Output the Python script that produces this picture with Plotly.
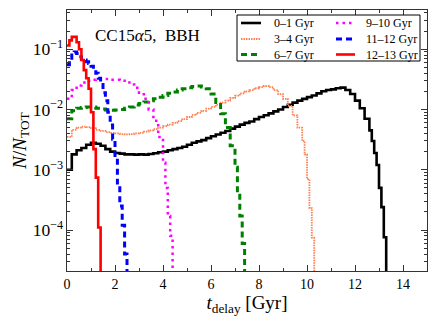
import plotly.graph_objects as go

# delay-time distributions, step histograms
# coarse part: 0.2 Gyr bins from t=0, fine tail: 0.1 Gyr bins after that
black_coarse = [1.0e-3, 1.8e-3, 2.1e-3, 2.3e-3, 2.6e-3, 2.8e-3, 2.7e-3, 2.5e-3, 2.2e-3, 2.0e-3,
                1.9e-3, 1.85e-3, 1.8e-3, 1.8e-3, 1.78e-3, 1.8e-3, 1.78e-3, 1.82e-3, 1.88e-3, 1.95e-3,
                2.0e-3, 2.1e-3, 2.2e-3, 2.3e-3, 2.4e-3, 2.6e-3, 2.8e-3, 2.95e-3, 3.1e-3, 3.35e-3,
                3.6e-3, 3.85e-3, 4.1e-3, 4.4e-3, 4.8e-3, 5.2e-3, 5.6e-3, 6.0e-3, 6.3e-3, 6.9e-3,
                7.5e-3, 8.0e-3, 8.6e-3, 9.3e-3, 1.0e-2, 1.1e-2, 1.2e-2, 1.3e-2, 1.4e-2, 1.5e-2,
                1.6e-2, 1.7e-2, 1.85e-2, 2.0e-2, 2.1e-2, 2.15e-2, 2.25e-2, 2.3e-2, 2.1e-2, 1.8e-2,
                1.4e-2, 1.05e-2, 7e-3]
black_tail = [4.5e-3, 3e-3, 1.9e-3, 1.2e-3, 5e-4, 2.4e-4, 7.6e-5]

orange_coarse = [3.5e-3, 4.6e-3, 5.0e-3, 5.2e-3, 5.1e-3, 4.9e-3, 4.6e-3, 4.4e-3, 4.2e-3, 4.1e-3,
                 4.0e-3, 3.9e-3, 3.85e-3, 3.9e-3, 4.0e-3, 4.1e-3, 4.3e-3, 4.5e-3, 4.7e-3, 5.0e-3,
                 5.3e-3, 5.6e-3, 6.0e-3, 6.4e-3, 6.9e-3, 7.5e-3, 8.1e-3, 8.8e-3, 9.5e-3, 1.03e-2,
                 1.1e-2, 1.2e-2, 1.3e-2, 1.4e-2, 1.55e-2, 1.7e-2, 1.85e-2, 2.0e-2, 2.1e-2, 2.25e-2,
                 2.35e-2, 2.45e-2, 2.35e-2, 2.1e-2, 1.8e-2, 1.5e-2, 1.15e-2, 8e-3, 5e-3]
orange_tail = [3e-3, 1.8e-3, 7e-4, 2.3e-4, 7.5e-5]

green_coarse = [7e-3, 9.5e-3, 1.05e-2, 1.08e-2, 1.1e-2, 1.1e-2, 1.05e-2, 1.02e-2, 9.8e-3, 9.7e-3,
                9.8e-3, 1.0e-2, 1.05e-2, 1.1e-2, 1.18e-2, 1.25e-2, 1.33e-2, 1.4e-2, 1.5e-2, 1.6e-2,
                1.7e-2, 1.85e-2, 1.95e-2, 2.1e-2, 2.2e-2, 2.3e-2, 2.4e-2, 2.45e-2, 2.35e-2, 2.2e-2,
                1.8e-2, 1.3e-2, 8.5e-3, 5e-3, 2.5e-3]
green_tail = [1.1e-3, 4e-4, 1.7e-4, 6e-5]

magenta_coarse = [1.5e-2, 2.1e-2, 2.5e-2, 2.8e-2, 3.0e-2, 3.1e-2, 3.2e-2, 3.2e-2, 3.2e-2, 3.1e-2,
                  3.1e-2, 3.0e-2, 2.8e-2, 2.6e-2, 2.3e-2, 1.9e-2, 1.5e-2, 1.0e-2, 6.5e-3, 3.5e-3]
magenta_tail = [1.3e-3, 5e-4, 1.7e-4, 8e-5]

blue_tail = [0.055, 0.065, 0.08, 0.09, 0.085, 0.075, 0.068, 0.066, 0.062, 0.058,
             0.052, 0.046, 0.04, 0.033, 0.026, 0.019, 0.014, 9e-3, 5.5e-3, 3.2e-3,
             1.6e-3, 6e-4, 2.5e-4, 1.2e-4, 4e-5]

red_tail = [0.115, 0.14, 0.16, 0.16, 0.13, 0.10, 0.066, 0.045, 0.033, 0.022,
            0.009, 2.2e-3, 7.4e-4, 1.1e-4]

labels = ['0\u20131 Gyr', '3\u20134 Gyr', '6\u20137 Gyr', '9\u201310 Gyr', '11\u201312 Gyr', '12\u201313 Gyr']


def step_xy(coarse, fine):
    x = [round(0.2 * i, 2) for i in range(len(coarse))]
    start = 0.2 * len(coarse)
    x += [round(start + 0.1 * j, 2) for j in range(len(fine))]
    x_end = round(start + 0.1 * len(fine), 2)
    return x + [x_end], list(coarse) + list(fine) + [1e-9]


series = [
    (black_coarse, black_tail, 'black', 2.6, 'solid'),
    (orange_coarse, orange_tail, '#FF7F50', 1.8, '1.5px,1px'),
    (green_coarse, green_tail, '#008000', 3, '6px,4px'),
    (magenta_coarse, magenta_tail, '#FF00FF', 2.5, '2.5px,4px'),
    ([], blue_tail, '#0000FF', 3, '6px,4px'),
    ([], red_tail, '#FF0000', 2.6, 'solid'),
]

W, H = 436, 329
L, R, T, B = 67, 9, 10, 58
pw, ph = W - L - R, H - T - B


def px(x):  # pixel -> paper
    return (x - L) / pw


def py(y):
    return (H - B - y) / ph


fig = go.Figure()
for (c, f, col, w, dash), lab in zip(series, labels):
    x, y = step_xy(c, f)
    fig.add_trace(go.Scatter(x=x, y=y, mode='lines', name=lab, showlegend=False,
                             line=dict(color=col, width=w, dash=dash, shape='hv')))

serif = 'Liberation Serif'

# legend: two columns inside a framed box at the top right
fig.add_shape(type='rect', xref='paper', yref='paper', x0=px(237), x1=px(420), y0=py(61), y1=py(15),
              line=dict(color='black', width=1), fillcolor='white', layer='above')
rows = [23, 39, 54.5]
cols = [(241, 261, 272), (336, 355, 364)]
for i, ((c, f, col, w, dash), lab) in enumerate(zip(series, labels)):
    x0, x1, xt = cols[i // 3]
    yy = rows[i % 3]
    fig.add_shape(type='line', xref='paper', yref='paper', x0=px(x0), x1=px(x1), y0=py(yy), y1=py(yy),
                  line=dict(color=col, width=w, dash=dash), layer='above')
    fig.add_annotation(x=px(xt), y=py(yy), xref='paper', yref='paper', xanchor='left', yanchor='middle',
                       text=lab, showarrow=False, font=dict(family=serif, size=12, color='black'))

axis_common = dict(showline=True, mirror='allticks', linecolor='#333', linewidth=1,
                   ticks='inside', ticklen=6, tickcolor='#333', showgrid=False, zeroline=False,
                   automargin=False,
                   tickfont=dict(family=serif, size=14, color='black'))

fig.update_layout(
    width=W, height=H,
    margin=dict(l=L, r=R, t=T, b=B, autoexpand=False),
    paper_bgcolor='white', plot_bgcolor='white',
    font=dict(family=serif, color='black'),
    showlegend=False,
    xaxis=dict(range=[0, 15], dtick=2, minor=dict(dtick=1, ticks='inside', ticklen=3, tickcolor='#333'),
               title=dict(text='<i>t</i><sub>delay</sub> [Gyr]', font=dict(family=serif, size=19), standoff=1),
               **axis_common),
    yaxis=dict(type='log', range=[-4.68, -0.35], dtick=1, exponentformat='power',
               minor=dict(ticks='inside', ticklen=3, tickcolor='#333'),
               title=dict(text='<i>N</i>/<i>N</i><sub>TOT</sub>', font=dict(family=serif, size=19), standoff=1),
               **axis_common),
)

fig.add_annotation(x=px(93), y=py(35), xref='paper', yref='paper', xanchor='left', yanchor='middle',
                   text='CC15<i>\u03b1</i>5,  BBH', showarrow=False,
                   font=dict(family=serif, size=17, color='black'))

# page body has a default 8px margin; drop it so the figure sits at the window corner
fig.write_html('out.html', config={'displayModeBar': False},
               post_script="document.body.style.margin='0px';")
